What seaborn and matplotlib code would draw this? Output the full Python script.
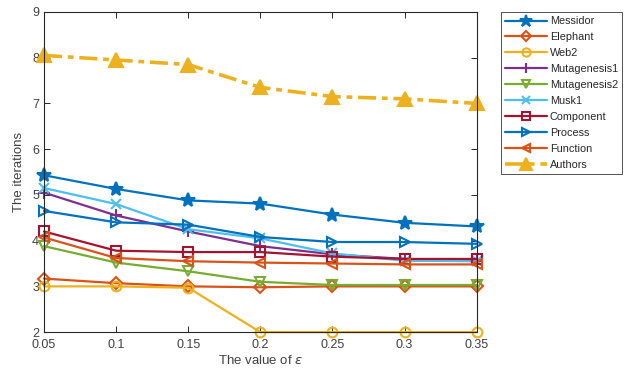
import matplotlib
matplotlib.use("Agg")
import matplotlib.pyplot as plt
import seaborn as sns

eps = [0.05, 0.1, 0.15, 0.2, 0.25, 0.3, 0.35]
names = ["Messidor", "Elephant", "Web2", "Mutagenesis1", "Mutagenesis2",
         "Musk1", "Component", "Process", "Function", "Authors"]
messidor = [5.43, 5.13, 4.88, 4.81, 4.57, 4.39, 4.31]
elephant = [3.17, 3.07, 3.0, 2.98, 3.0, 3.0, 3.0]
web2 = [3.0, 3.0, 2.97, 2.0, 2.0, 2.0, 2.0]
mutag1 = [5.05, 4.55, 4.2, 3.88, 3.7, 3.6, 3.55]
mutag2 = [3.88, 3.52, 3.33, 3.1, 3.03, 3.03, 3.03]
musk1 = [5.15, 4.8, 4.25, 4.05, 3.72, 3.56, 3.55]
component = [4.2, 3.78, 3.75, 3.75, 3.65, 3.6, 3.6]
process = [4.65, 4.4, 4.35, 4.08, 3.97, 3.97, 3.93]
function = [4.07, 3.62, 3.55, 3.52, 3.5, 3.48, 3.48]
authors = [8.05, 7.95, 7.85, 7.35, 7.15, 7.1, 7.0]
series = [messidor, elephant, web2, mutag1, mutag2, musk1, component, process, function, authors]

colors = ["#0072BD", "#D95319", "#EDB120", "#7E2F8E", "#77AC30",
          "#4DBEEE", "#A2142F", "#0072BD", "#D95319", "#EDB120"]
markers = ["*", "D", "o", "+", "v", "x", "s", ">", "<", "^"]
msizes = [10.5, 6, 7, 8.5, 7.5, 7.5, 6.5, 7.5, 7.5, 10]
filled = [True, False, False, False, False, False, False, False, False, True]

sns.set_style("white")
plt.rcParams['font.family'] = ['Liberation Sans', 'DejaVu Sans']
fig = plt.figure(figsize=(6.24, 3.74), dpi=100)
ax = fig.add_axes([0.0705, 0.112, 0.6935, 0.856])

for name, vals, c, m, ms, f in zip(names, series, colors, markers, msizes, filled):
    is_auth = name == "Authors"
    sns.lineplot(x=eps, y=vals, ax=ax, color=c, marker=m, markersize=ms,
                 markerfacecolor=c if f else "none", markeredgecolor=c,
                 markeredgewidth=1.5, linewidth=2.6 if is_auth else 1.6,
                 linestyle=(0, (5, 1.6, 1.6, 1.6)) if is_auth else "-",
                 label=name, clip_on=False)

ax.set_xlim(0.05, 0.35)
ax.set_ylim(2, 9)
ax.set_xticks(eps)
ax.set_xticklabels(["0.05", "0.1", "0.15", "0.2", "0.25", "0.3", "0.35"])
ax.set_yticks(range(2, 10))
for s in ax.spines.values():
    s.set_visible(True)
    s.set_color("#262626")
    s.set_linewidth(0.8)
ax.tick_params(direction="in", length=4, width=0.7, colors="#262626",
               labelcolor="#404040", labelsize=9, top=True, right=True,
               bottom=True, left=True)
ax.tick_params(axis="x", pad=5)
ax.set_xlabel("The value of $\\epsilon$", fontsize=9.5, color="#404040", labelpad=2)
ax.set_ylabel("The iterations", fontsize=9.5, color="#404040", labelpad=5)

leg = ax.legend(loc="upper left", bbox_to_anchor=(1.055, 1.0), fontsize=7.8,
                frameon=True, fancybox=False, edgecolor="#262626",
                handlelength=3.9, labelspacing=0.55, borderpad=0.4,
                handletextpad=0.25, borderaxespad=0, markerscale=0.85)
leg.get_frame().set_linewidth(0.7)

fig.savefig("out.png", dpi=100)
